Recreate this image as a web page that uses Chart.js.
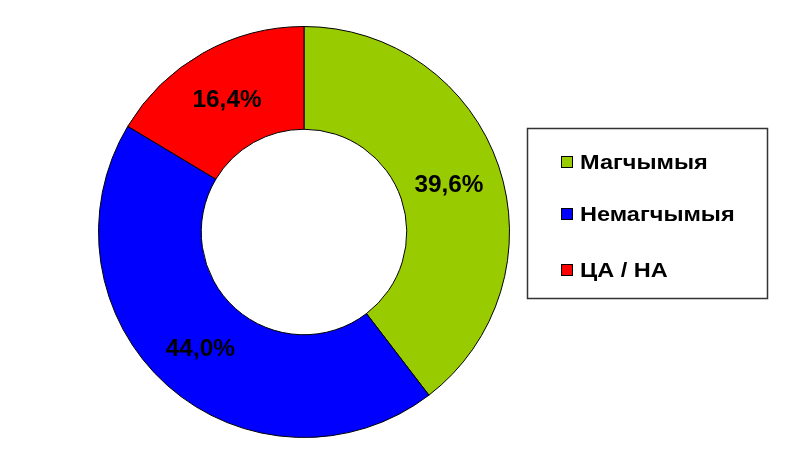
<!DOCTYPE html>
<html>
<head>
<meta charset="utf-8">
<script src="https://cdn.jsdelivr.net/npm/chart.js@4"></script>
<style>
  html, body { margin: 0; padding: 0; background: #fff; }
  #wrap { width: 800px; height: 458px; }
</style>
</head>
<body>
<div id="wrap"><canvas id="myChart" width="800" height="458"></canvas></div>
<script>
const labels = ['Магчымыя', 'Немагчымыя', 'ЦА / НА'];
const values = [39.6, 44.0, 16.4];
const colors = ['#99CC00', '#0000FF', '#FF0000'];

const FONT = '"Liberation Sans", Arial, sans-serif';

// текст з крыху расцягнутай шырынёй, як у арыгінале
function wideText(ctx, text, x, y, sx) {
    ctx.save();
    ctx.translate(x, y);
    ctx.scale(sx, 1);
    ctx.fillText(text, 0, 0);
    ctx.restore();
}

// подпісы ў працэнтах на сектарах
const sliceLabels = {
    id: 'sliceLabels',
    afterDatasetsDraw(chart) {
        const ctx = chart.ctx;
        const meta = chart.getDatasetMeta(0);
        ctx.save();
        ctx.font = 'bold 23px ' + FONT;
        ctx.fillStyle = '#000';
        ctx.textAlign = 'center';
        ctx.textBaseline = 'middle';
        meta.data.forEach((arc, i) => {
            const p = arc.tooltipPosition();
            const t = values[i].toFixed(1).replace('.', ',') + '%';
            wideText(ctx, t, p.x - 1, p.y + 3, 1.06);
        });
        ctx.restore();
    }
};

// легенда ў рамцы справа
const boxLegend = {
    id: 'boxLegend',
    afterDraw(chart) {
        const ctx = chart.ctx;
        ctx.save();
        ctx.strokeStyle = '#333';
        ctx.lineWidth = 1.5;
        ctx.strokeRect(527.5, 128.5, 240, 170);
        ctx.font = 'bold 21px ' + FONT;
        ctx.textBaseline = 'middle';
        const rows = [162, 214, 270];
        labels.forEach((l, i) => {
            ctx.fillStyle = colors[i];
            ctx.fillRect(561, rows[i] - 6, 12, 12);
            ctx.strokeStyle = '#000';
            ctx.lineWidth = 1;
            ctx.strokeRect(561.5, rows[i] - 5.5, 11, 11);
            ctx.fillStyle = '#000';
            wideText(ctx, l, 580, rows[i] + 1, 1.12);
        });
        ctx.restore();
    }
};

new Chart(document.getElementById('myChart'), {
    type: 'doughnut',
    data: {
        labels,
        datasets: [{
            data: values,
            backgroundColor: colors,
            borderColor: '#000',
            borderWidth: 1
        }]
    },
    options: {
        responsive: false,
        animation: false,
        cutout: '50%',
        layout: { padding: { left: 98, right: 290, top: 26, bottom: 20 } },
        plugins: {
            legend: { display: false },
            tooltip: { enabled: false }
        }
    },
    plugins: [sliceLabels, boxLegend]
});
</script>
</body>
</html>
